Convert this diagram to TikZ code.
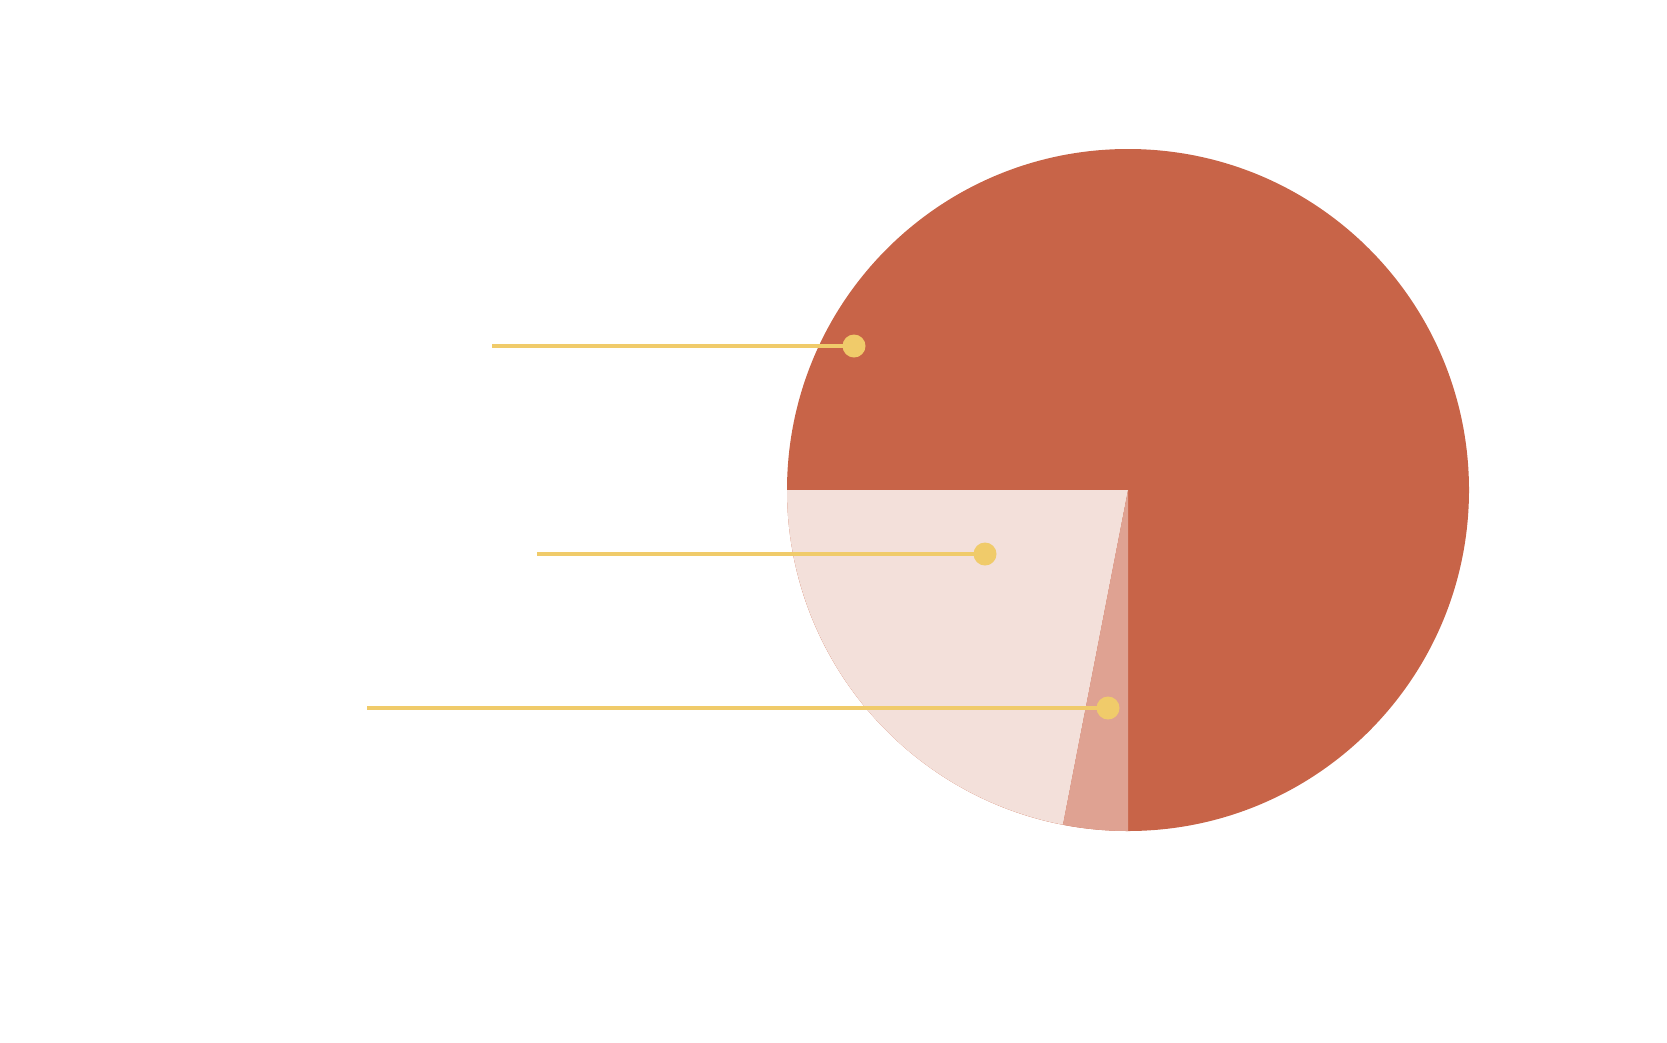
\documentclass[tikz,border=0pt]{standalone}
\usetikzlibrary{calc}
\definecolor{dark}{HTML}{C86448}
\definecolor{light}{HTML}{F3E0DA}
\definecolor{mid}{HTML}{DFA292}
\definecolor{gold}{HTML}{F0CB6A}
\begin{document}
\begin{tikzpicture}[x=1pt,y=-1pt,
  leader/.style={draw=gold,line width=4pt},
  dotmark/.style={circle,fill=gold,inner sep=0pt,minimum size=23pt}]
\useasboundingbox (0,0) rectangle (1667,1042);
\coordinate (c) at (1128,490);
\fill[dark] (c) circle[radius=341];
\fill[light] (c) -- (787,490) arc[start angle=180,end angle=101,radius=341] -- cycle;
\fill[mid] (c) -- ($(c)+(101:341)$) arc[start angle=101,end angle=90,radius=341] -- cycle;
\node[dotmark] (d1) at (854,346) {};
\node[dotmark] (d2) at (985,554) {};
\node[dotmark] (d3) at (1108,708) {};
\coordinate (s1) at (492,346);
\coordinate (s2) at (537,554);
\coordinate (s3) at (367,708);
\draw[leader] (s1) -- (d1.center);
\draw[leader] (s2) -- (d2.center);
\draw[leader] (s3) -- (d3.center);
\end{tikzpicture}
\end{document}
